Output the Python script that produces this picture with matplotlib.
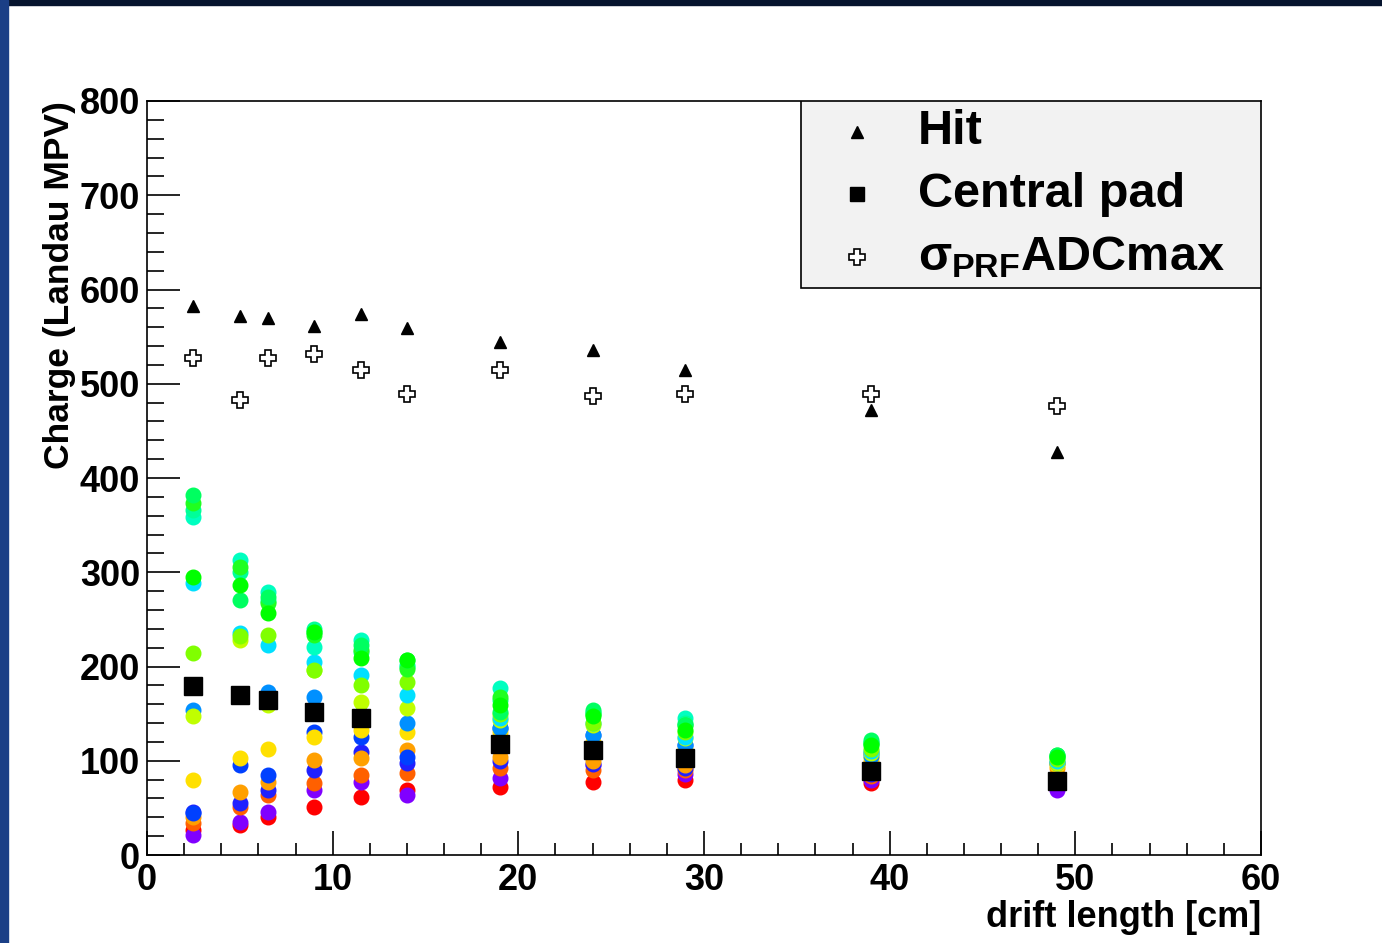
import matplotlib.pyplot as plt
from matplotlib.patches import Rectangle
from matplotlib.ticker import MultipleLocator

# --- 1. DATA ---
drift = [2.5, 5, 6.5, 9, 11.5, 14, 19, 24, 29, 39, 49]

hit = [582, 572, 570, 561, 574, 559, 544, 536, 515, 472, 428]
sigma_prf = [527, 483, 527, 532, 515, 489, 515, 487, 489, 489, 476]
central_x = [2.5, 5, 6.5, 9, 11.5, 19, 24, 29, 39, 49]
central_pad = [179, 170, 164, 152, 145, 118, 111, 103, 89, 79]

# single pads, one colour each (drawn in this order)
pad_colors = ['#ff0000', '#8000ff', '#ff6000', '#2020ff', '#ffa000', '#0040ff',
              '#ffe000', '#0090ff', '#c0ff00', '#00e0ff', '#00ffc0', '#00ff99',
              '#80ff00', '#20ff20', '#00ff60', '#00ff00']
pad_values = [
    [27, 32, 40, 51, 62, 69, 72, 77, 80, 76, 72],
    [21, 35, 46, 69, 77, 64, 82, 95, 86, 80, 69],
    [34, 51, 64, 76, 85, 87, 92, 90, 90, 84, 82],
    [46, 55, 69, 90, 109, 98, 100, 97, 92, 86, 80],
    [40, 67, 77, 101, 103, 111, 104, 100, 95, 99, 92],
    [45, 95, 85, 131, 125, 104, 135, 127, 117, 108, 98],
    [80, 103, 113, 125, 133, 131, 131, 120, 112, 103, 95],
    [154, 170, 173, 168, 150, 140, 135, 127, 117, 105, 98],
    [147, 228, 159, 196, 162, 156, 143, 138, 124, 108, 98],
    [289, 236, 223, 205, 191, 170, 145, 140, 125, 110, 100],
    [359, 313, 279, 221, 228, 202, 177, 150, 145, 120, 104],
    [366, 300, 270, 240, 215, 200, 165, 152, 140, 118, 105],
    [214, 232, 233, 196, 180, 184, 150, 140, 130, 112, 102],
    [373, 306, 267, 233, 218, 197, 168, 150, 138, 119, 106],
    [382, 271, 274, 237, 223, 207, 152, 154, 138, 122, 106],
    [295, 287, 257, 237, 209, 207, 159, 147, 133, 117, 104],
]

legend_labels = ['Hit', 'Central pad', r'$\sigma_{\rm PRF}$ADCmax']

# --- 2. STYLE ---
plt.rcParams['font.family'] = 'Liberation Sans'
plt.rcParams['font.weight'] = 'bold'
plt.rcParams['axes.labelweight'] = 'bold'
plt.rcParams['mathtext.fontset'] = 'custom'
plt.rcParams['mathtext.rm'] = 'Liberation Sans:bold'
plt.rcParams['mathtext.it'] = 'Liberation Sans:bold'
plt.rcParams['mathtext.bf'] = 'Liberation Sans:bold'

fig = plt.figure(figsize=(13.82, 9.43), dpi=100, facecolor='white')
ax = fig.add_axes([0.1064, 0.0933, 0.806, 0.7996])

# slide frame (dark top strip, blue left strip)
fig.patches.append(Rectangle((0, 1 - 5 / 943), 1, 5 / 943, transform=fig.transFigure,
                             color='#06142e', zorder=0))
fig.patches.append(Rectangle((0, 0), 8 / 1382, 1, transform=fig.transFigure,
                             color='#1b3f86', zorder=0))

# --- 3. PLOT ---
for col, vals in zip(pad_colors, pad_values):
    ax.plot(drift, vals, ls='none', marker='o', ms=10.5, color=col, mec=col)

ax.plot(central_x, central_pad, ls='none', marker='s', ms=12.5, color='black')
ax.plot(drift, hit, ls='none', marker='^', ms=8.5, color='black')
ax.plot(drift, sigma_prf, ls='none', marker='P', ms=11, mfc='white', mec='black', mew=1.2)

ax.set_xlim(0, 60)
ax.set_ylim(0, 800)
ax.xaxis.set_major_locator(MultipleLocator(10))
ax.xaxis.set_minor_locator(MultipleLocator(2))
ax.yaxis.set_major_locator(MultipleLocator(100))
ax.yaxis.set_minor_locator(MultipleLocator(20))
ax.tick_params(which='both', direction='in', top=False, right=False, width=1.2, labelsize=26)
ax.tick_params(axis='y', which='major', length=24, pad=5)
ax.tick_params(axis='y', which='minor', length=12)
ax.tick_params(axis='x', which='major', length=17, pad=6)
ax.tick_params(axis='x', which='minor', length=9)
for s in ax.spines.values():
    s.set_linewidth(1.2)

ax.set_xlabel('drift length [cm]', fontsize=26, loc='right', labelpad=1)
ax.set_ylabel('Charge (Landau MPV)', fontsize=25.5, loc='top', labelpad=3)

# legend box
ax.add_patch(Rectangle((0.587, 0.752), 0.413, 0.248, transform=ax.transAxes,
                       facecolor='#f2f2f2', edgecolor='black', lw=1.2, zorder=5))
leg_markers = [dict(marker='^', ms=8.5, color='black'),
               dict(marker='s', ms=10, color='black'),
               dict(marker='P', ms=11, mfc='white', mec='black', mew=1.2)]
leg_y = [0.959, 0.876, 0.793]
for lab, mk, yy in zip(legend_labels, leg_markers, leg_y):
    ax.plot([0.6378], [yy], ls='none', transform=ax.transAxes, zorder=6, **mk)
    ax.text(0.692, yy, lab, transform=ax.transAxes, fontsize=35, va='center',
            ha='left', zorder=6)

fig.savefig('out.png', dpi=100)
